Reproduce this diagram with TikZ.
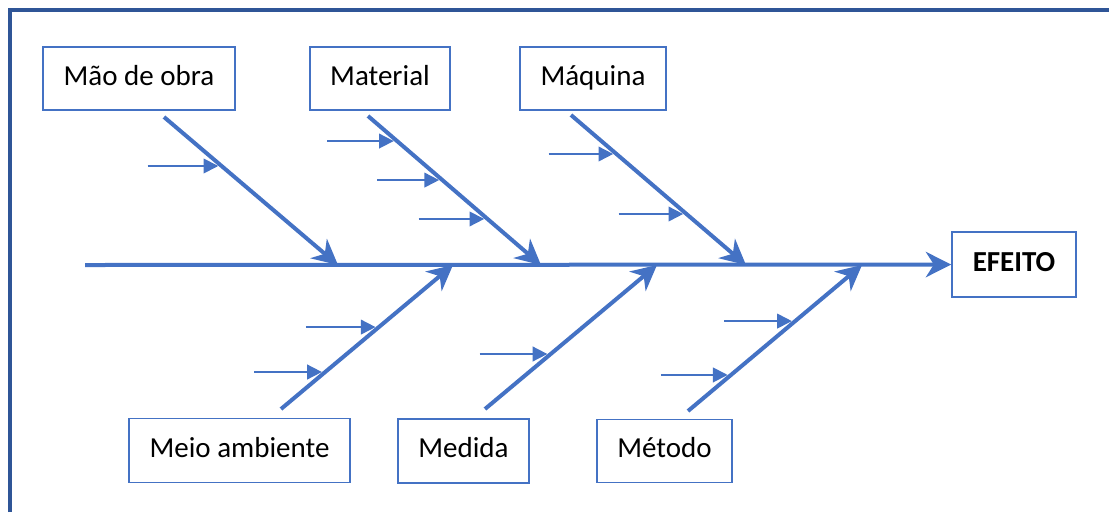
\documentclass[tikz,border=0pt]{standalone}
\usepackage{fontspec}
\setmainfont{Carlito}
\usetikzlibrary{arrows.meta,calc}
\definecolor{bonecol}{RGB}{68,114,196}
\definecolor{framecol}{RGB}{47,85,151}
\begin{document}
\begin{tikzpicture}[x=0.75pt,y=-0.75pt,
  box/.style={draw=bonecol,line width=1.2pt,fill=white,font=\fontsize{21.75}{26}\selectfont,minimum height=47.5pt,inner sep=0pt,text height=14pt,text depth=4.25pt},
  bone/.style={draw=bonecol,line width=3pt,-{Stealth[length=19pt,width=19pt,inset=6pt]}},
  twig/.style={draw=bonecol,line width=1.3pt,-{Triangle[length=11pt,width=11pt]},shorten >=2.5pt}]
\useasboundingbox (0,0) rectangle (1109,512);
\draw[framecol,line width=3pt] (10,512) -- (10,10) -- (1109,10);

\node[box,minimum width=144pt] (mao) at (139,78.5) {Mão de obra};
\node[box,minimum width=105pt] (material) at (380,78.5) {Material};
\node[box,minimum width=109.5pt] (maquina) at (593,78.5) {Máquina};
\node[box,minimum width=93pt,minimum height=48.75pt,font=\fontsize{21.75}{26}\selectfont\bfseries] (efeito) at (1014,264.5) {EFEITO};
\node[box,minimum width=165.75pt,minimum height=48pt] (meio) at (239.5,450.5) {Meio ambiente};
\node[box,minimum width=98.25pt,minimum height=48pt] (medida) at (463.5,451) {Medida};
\node[box,minimum width=101.25pt] (metodo) at (664.5,451) {Método};

\coordinate (tail) at (85,265);
\draw[bone] (tail) -- (efeito);

\coordinate (mao-a) at (164,117);
\coordinate (mao-b) at (338,265);
\draw[bone] (mao-a) -- coordinate[pos=.331] (mao-1) (mao-b);
\draw[twig] ($(mao-1)+(-74,0)$) -- (mao-1);

\coordinate (material-a) at (368,116);
\coordinate (material-b) at (541,265);
\draw[bone] (material-a) -- coordinate[pos=.168] (material-1) coordinate[pos=.43] (material-2) coordinate[pos=.691] (material-3) (material-b);
\draw[twig] ($(material-1)+(-70,0)$) -- (material-1);
\draw[twig] ($(material-2)+(-65,0)$) -- (material-2);
\draw[twig] ($(material-3)+(-69,0)$) -- (material-3);

\coordinate (maquina-a) at (571,115);
\coordinate (maquina-b) at (746,265);
\draw[bone] (maquina-a) -- coordinate[pos=.26] (maquina-1) coordinate[pos=.66] (maquina-2) (maquina-b);
\draw[twig] ($(maquina-1)+(-68,0)$) -- (maquina-1);
\draw[twig] ($(maquina-2)+(-68,0)$) -- (maquina-2);

\coordinate (meio-a) at (281,409);
\coordinate (meio-b) at (453,265);
\draw[bone] (meio-a) -- coordinate[pos=.569] (meio-1) coordinate[pos=.257] (meio-2) (meio-b);
\draw[twig] ($(meio-1)+(-73,0)$) -- (meio-1);
\draw[twig] ($(meio-2)+(-71,0)$) -- (meio-2);

\coordinate (medida-a) at (485,409);
\coordinate (medida-b) at (657,265);
\draw[bone] (medida-a) -- coordinate[pos=.382] (medida-1) (medida-b);
\draw[twig] ($(medida-1)+(-71,0)$) -- (medida-1);

\coordinate (metodo-a) at (688,411);
\coordinate (metodo-b) at (862,265);
\draw[bone] (metodo-a) -- coordinate[pos=.616] (metodo-1) coordinate[pos=.247] (metodo-2) (metodo-b);
\draw[twig] ($(metodo-1)+(-71,0)$) -- (metodo-1);
\draw[twig] ($(metodo-2)+(-70,0)$) -- (metodo-2);
\end{tikzpicture}
\end{document}
